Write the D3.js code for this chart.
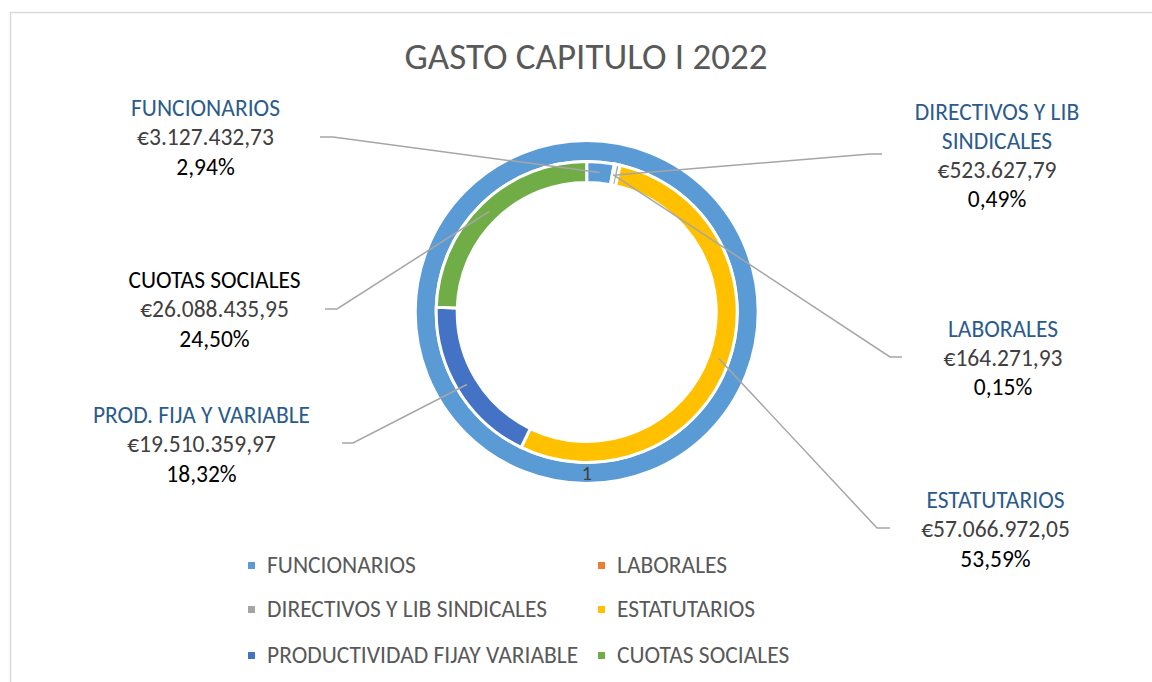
<!DOCTYPE html>
<html>
<head>
<meta charset="utf-8">
<script src="https://cdn.jsdelivr.net/npm/d3@7"></script>
<style>
  body { margin: 0; background: #fff; }
  text { font-family: Calibri, Carlito, Lato, sans-serif; }
</style>
</head>
<body>
<svg id="chart" width="1152" height="682"></svg>
<script>
// data
var categories = ["FUNCIONARIOS", "LABORALES", "DIRECTIVOS Y LIB SINDICALES", "ESTATUTARIOS", "PRODUCTIVIDAD FIJAY VARIABLE", "CUOTAS SOCIALES"]
var amounts = [3127432.73, 164271.93, 523627.79, 57066972.05, 19510359.97, 26088435.95]
var labelNames = [["FUNCIONARIOS"], ["LABORALES"], ["DIRECTIVOS Y LIB", "SINDICALES"], ["ESTATUTARIOS"], ["PROD. FIJA Y VARIABLE"], ["CUOTAS SOCIALES"]]
var outerValues = [1]
var outerLabels = ["1"]
var colors = ["#5B9BD5", "#ED7D31", "#A5A5A5", "#FFC000", "#4472C4", "#70AD47"]

// where the data labels sit (layout only)
var labelLayout = [
  {cx: 205.5, y: 116, end: [320, 137], knee: [333, 137], nameColor: "#2B5B8C"},
  {cx: 1003, y: 336.5, end: [902, 357], knee: [890, 357], nameColor: "#2B5B8C"},
  {cx: 997, y: 119.5, end: [882, 154], knee: [870, 154], nameColor: "#2B5B8C"},
  {cx: 995.5, y: 508, end: [890, 528], knee: [877, 528], nameColor: "#2B5B8C"},
  {cx: 201.5, y: 423, end: [342, 443], knee: [353, 443], nameColor: "#2B5B8C"},
  {cx: 214.5, y: 288, end: [325, 309], knee: [337, 309], nameColor: "#000000"}
]
var lineGap = 29.3

var locale = d3.formatLocale({decimal: ",", thousands: ".", grouping: [3], currency: ["€", ""]})
var fmtMoney = locale.format("$,.2f")
var fmtPct = locale.format(".2%")

var svg = d3.select("#chart")

// chart frame
svg.append("rect")
  .attr("x", 10.5).attr("y", 12.5)
  .attr("width", 1300).attr("height", 800)
  .attr("fill", "none")
  .attr("stroke", "#d9d9d9")
  .attr("stroke-width", 1.5)

svg.append("text")
  .attr("x", 586).attr("y", 69)
  .attr("text-anchor", "middle")
  .style("font-size", "37px")
  .style("font-weight", 300)
  .style("fill", "#595959")
  .text("GASTO CAPITULO I 2022")

var cx = 586.7, cy = 312
var g = svg.append("g").attr("transform", "translate(" + cx + "," + cy + ")")

var pie = d3.pie().sort(null).value(function(d){ return d })
var total = d3.sum(amounts)

// outer ring (single series value)
var outerArc = d3.arc().innerRadius(150.5).outerRadius(171.5)
var outerData = pie(outerValues)
g.selectAll("path.outer")
  .data(outerData)
  .enter()
  .append("path")
    .attr("class", "outer")
    .attr("d", outerArc)
    .attr("fill", "#5B9BD5")
    .attr("stroke", "#fff")
    .attr("stroke-width", 3)

// inner ring
var innerArc = d3.arc().innerRadius(129.5).outerRadius(150.5)
var innerData = pie(amounts)
g.selectAll("path.inner")
  .data(innerData)
  .enter()
  .append("path")
    .attr("class", "inner")
    .attr("d", innerArc)
    .attr("fill", function(d, i){ return colors[i] })
    .attr("stroke", "#fff")
    .attr("stroke-width", 3)

// "1" label on the outer ring bottom
g.selectAll("text.outerlab")
  .data(outerData)
  .enter()
  .append("text")
    .attr("x", 0)
    .attr("y", 161 + 7)
    .attr("text-anchor", "middle")
    .style("font-size", "20px")
    .style("fill", "#404040")
    .text(function(d, i){ return outerLabels[i] })

// leader lines
var line = d3.line()
svg.selectAll("path.leader")
  .data(innerData)
  .enter()
  .append("path")
    .attr("class", "leader")
    .attr("d", function(d, i){
      var c = d3.arc().innerRadius(140).outerRadius(140).centroid(d)
      var L = labelLayout[i]
      return line([[cx + c[0], cy + c[1]], L.knee, L.end])
    })
    .attr("fill", "none")
    .attr("stroke", "#A6A6A6")
    .attr("stroke-width", 1.5)

// data labels
innerData.forEach(function(d, i){
  var L = labelLayout[i]
  var rows = labelNames[i].map(function(t){ return {t: t, c: L.nameColor} })
  rows.push({t: fmtMoney(amounts[i]), c: "#404040"})
  rows.push({t: fmtPct(amounts[i] / total), c: "#000000"})
  svg.selectAll(null)
    .data(rows)
    .enter()
    .append("text")
      .attr("x", L.cx)
      .attr("y", function(r, j){ return L.y + j * lineGap })
      .attr("text-anchor", "middle")
      .style("font-size", "23.5px")
      .style("fill", function(r){ return r.c })
      .text(function(r){ return r.t })
})

// legend
var legX = [248, 598]
var legY = [573, 617, 663]
var size = 7
svg.selectAll("rect.leg")
  .data(categories)
  .enter()
  .append("rect")
    .attr("class", "leg")
    .attr("x", function(d, i){ return legX[i % 2] })
    .attr("y", function(d, i){ return legY[Math.floor(i / 2)] - 7.5 - size / 2 })
    .attr("width", size)
    .attr("height", size)
    .style("fill", function(d, i){ return colors[i] })

svg.selectAll("text.leg")
  .data(categories)
  .enter()
  .append("text")
    .attr("class", "leg")
    .attr("x", function(d, i){ return legX[i % 2] + 19 })
    .attr("y", function(d, i){ return legY[Math.floor(i / 2)] })
    .style("font-size", "23.5px")
    .style("fill", "#595959")
    .text(function(d){ return d })
</script>
</body>
</html>
